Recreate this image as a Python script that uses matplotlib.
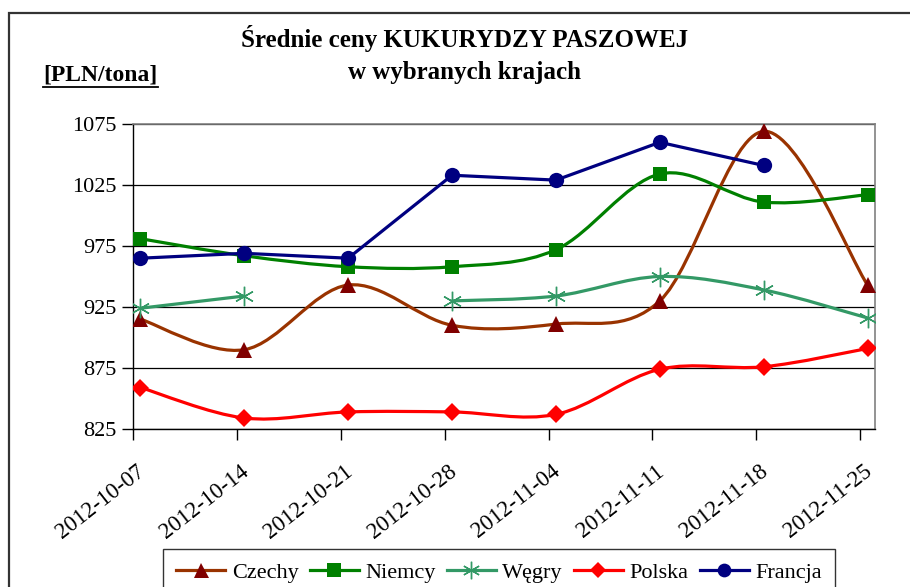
import numpy as np
import matplotlib
matplotlib.use("Agg")
import matplotlib.pyplot as plt
import matplotlib.dates as mdates
import matplotlib.transforms as mtransforms
from matplotlib.path import Path
from matplotlib.patches import PathPatch, Rectangle
from matplotlib.lines import Line2D

plt.rcParams['font.family'] = ['Liberation Serif', 'DejaVu Serif']

# dane [PLN/tona]
daty = ['2012-10-07', '2012-10-14', '2012-10-21', '2012-10-28',
        '2012-11-04', '2012-11-11', '2012-11-18', '2012-11-25']
czechy = [915, 890, 943, 910, 911, 930, 1069, 943]
niemcy = [981, 967, 958, 958, 972, 1034, 1011, 1017]
wegry = [924, 934, np.nan, 930, 934, 950, 939, 916]
polska = [859, 834, 839, 839, 837, 874, 876, 891]
francja = [965, 969, 965, 1033, 1029, 1060, 1041, np.nan]

W, H = 910, 587


def gladka(ax, x, y, kolor, lw):
    # wygladzona linia jak w Excelu (Catmull-Rom -> Bezier)
    y = np.asarray(y, float)
    idx = np.where(~np.isnan(y))[0]
    runs = np.split(idx, np.where(np.diff(idx) != 1)[0] + 1)
    for r in runs:
        if len(r) < 2:
            continue
        px, py = x[r], y[r]
        n = len(px)
        verts = [(px[0], py[0])]
        codes = [Path.MOVETO]
        for i in range(n - 1):
            i0 = max(i - 1, 0)
            i3 = min(i + 2, n - 1)
            c1 = (px[i] + (px[i + 1] - px[i0]) / 6, py[i] + (py[i + 1] - py[i0]) / 6)
            c2 = (px[i + 1] - (px[i3] - px[i]) / 6, py[i + 1] - (py[i3] - py[i]) / 6)
            verts += [c1, c2, (px[i + 1], py[i + 1])]
            codes += [Path.CURVE4] * 3
        ax.add_patch(PathPatch(Path(verts, codes), fill=False, edgecolor=kolor,
                               lw=lw, capstyle='round', joinstyle='round', zorder=2))


fig = plt.figure(figsize=(W / 100, H / 100), dpi=100)
ax = fig.add_axes([133 / W, 1 - 429 / H, (875 - 133) / W, (429 - 124) / H])

xd = mdates.date2num(np.array(daty, dtype='datetime64[D]'))
x = xd + 0.5  # punkty w srodku dnia

serie = [
    ('Czechy', czechy, '#993300', '#800000', '^', 12, True),
    ('Niemcy', niemcy, '#008000', '#008000', 's', 10.5, True),
    ('Węgry', wegry, '#339966', '#339966', (6, 2, 0), 14, True),
    ('Polska', polska, '#ff0000', '#ff0000', 'D', 9.5, True),
    ('Francja', francja, '#000080', '#000080', 'o', 11, False),
]

uchwyty = []
for i, (nazwa, wart, kl, km, mk, ms, smooth) in enumerate(serie):
    wart = np.asarray(wart, float)
    if smooth:
        gladka(ax, x, wart, kl, 2.3)
    else:
        ax.plot(x, wart, color=kl, lw=2.3, zorder=2 + i * 0.1)
    mew = 1.0 if mk == (6, 2, 0) else 0
    ax.plot(x, wart, ls='none', marker=mk, ms=ms, color=km, mec=km, mew=mew,
            zorder=3 + i * 0.1)
    uchwyty.append(Line2D([], [], color=kl, lw=2.3, marker=mk, ms=ms * 0.9,
                          mfc=km, mec=km, mew=mew))

ax.set_xlim(xd[0], xd[-1] + 1)
ax.set_ylim(825, 1075)
ax.set_yticks(np.arange(825, 1076, 50))
ax.set_xticks(xd)
ax.set_xticklabels(daty, rotation=38, ha='right', va='top', rotation_mode='anchor')
ax.tick_params(axis='both', labelsize=16, direction='out', length=8, width=1,
               color='black')
ax.tick_params(axis='x', labelsize=16.5, pad=15)
ax.tick_params(axis='y', pad=4)
przes = mtransforms.ScaledTranslation(3 / 100, 0, fig.dpi_scale_trans)
for lab in ax.get_xticklabels():
    lab.set_transform(lab.get_transform() + przes)
ax.grid(axis='y', color='black', lw=0.9)
ax.set_axisbelow(True)
for s in ['top', 'right']:
    ax.spines[s].set_color('#808080')
    ax.spines[s].set_linewidth(1.2)
for s in ['left', 'bottom']:
    ax.spines[s].set_color('black')
    ax.spines[s].set_linewidth(1.0)

# ramka calego wykresu
fig.patches.append(Rectangle((9 / W, -0.2), 1.5, 1 - 13 / H + 0.2, fill=False,
                             edgecolor='#333333', lw=1.6, transform=fig.transFigure))

fig.text(465 / W, 1 - 38 / H, 'Średnie ceny KUKURYDZY PASZOWEJ', ha='center',
         va='center', fontsize=18, fontweight='bold')
fig.text(465 / W, 1 - 72 / H, 'w wybranych krajach', ha='center', va='center',
         fontsize=18, fontweight='bold')
fig.text(43 / W, 1 - 75 / H, '[PLN/tona]', ha='left', va='center', fontsize=17,
         fontweight='bold')
fig.add_artist(Line2D([43 / W, 158 / W], [1 - 87 / H, 1 - 87 / H], color='black',
                      lw=1.3, transform=fig.transFigure))

leg = fig.legend(handles=uchwyty, labels=[s[0] for s in serie], ncol=5,
                 loc='upper left', bbox_to_anchor=(163 / W, 1 - 549 / H),
                 fontsize=16, frameon=True, fancybox=False, edgecolor='black',
                 handlelength=2.2, handletextpad=0.3, columnspacing=0.5,
                 borderpad=0.6, borderaxespad=0)
leg.get_frame().set_linewidth(1.0)

fig.savefig('out.png', dpi=100)
